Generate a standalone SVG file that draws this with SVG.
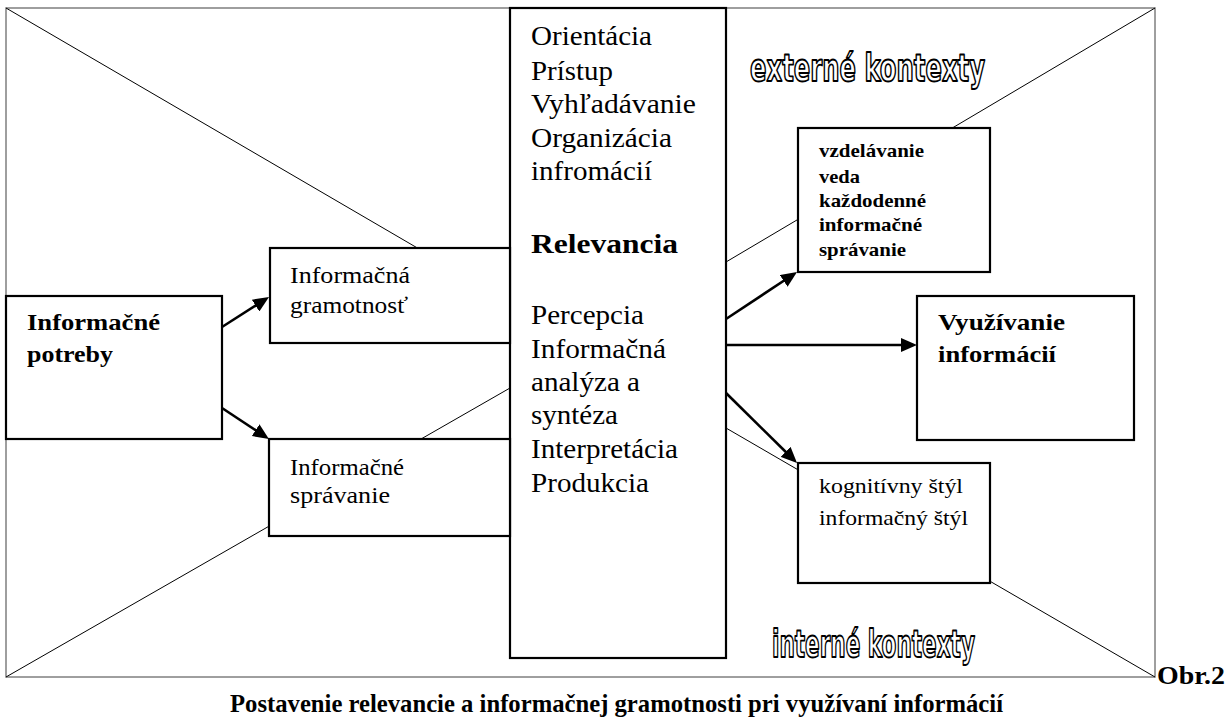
<svg xmlns="http://www.w3.org/2000/svg" width="1231" height="717" viewBox="0 0 1231 717">
<style>
.bg{fill:#fff}
.frame{fill:none;stroke:#7f7f7f;stroke-width:1.5}
.diag{stroke:#000;stroke-width:1;fill:none}
.box{fill:#fff;stroke:#000;stroke-width:2.2}
.arr{stroke:#000;stroke-width:2.6;fill:none;marker-end:url(#ah)}
.t{font-family:"Liberation Serif","Times New Roman",serif;fill:#000}
.b{font-weight:bold}
.ctx{font-family:"DejaVu Sans Condensed","DejaVu Sans","Liberation Sans",sans-serif;font-weight:bold;fill:#fff;stroke:#000;stroke-width:1.8;stroke-linejoin:round}
</style>
<defs>
<marker id="ah" markerUnits="userSpaceOnUse" viewBox="0 0 16 14" refX="6" refY="7" markerWidth="16" markerHeight="14" orient="auto">
<path d="M0,0 L16,7 L0,14 z" fill="#000"/>
</marker>
</defs>
<rect class="bg" x="0" y="0" width="1231" height="717"/>
<g id="frame">
<rect class="frame" x="6" y="8" width="1149" height="669"/>
</g>
<g id="diagonals">
<line class="diag" x1="6" y1="8" x2="510" y2="302"/>
<line class="diag" x1="6" y1="677" x2="510" y2="388"/>
<line class="diag" x1="1155" y1="8" x2="726" y2="262"/>
<line class="diag" x1="1155" y1="677" x2="726" y2="428"/>
</g>
<g id="central">
<rect class="box" x="510" y="8" width="216" height="650"/>
<text class="t" font-size="28" x="531" y="45" textLength="121" lengthAdjust="spacingAndGlyphs">Orientácia</text>
<text class="t" font-size="28" x="531" y="80" textLength="82" lengthAdjust="spacingAndGlyphs">Prístup</text>
<text class="t" font-size="28" x="531" y="113" textLength="165" lengthAdjust="spacingAndGlyphs">Vyhľadávanie</text>
<text class="t" font-size="28" x="531" y="147" textLength="141" lengthAdjust="spacingAndGlyphs">Organizácia</text>
<text class="t" font-size="28" x="531" y="180" textLength="121" lengthAdjust="spacingAndGlyphs">infromácií</text>
<text class="t b" font-size="28" x="531" y="253" textLength="147" lengthAdjust="spacingAndGlyphs">Relevancia</text>
<text class="t" font-size="28" x="531" y="324" textLength="113" lengthAdjust="spacingAndGlyphs">Percepcia</text>
<text class="t" font-size="28" x="531" y="358" textLength="135" lengthAdjust="spacingAndGlyphs">Informačná</text>
<text class="t" font-size="28" x="531" y="391" textLength="109" lengthAdjust="spacingAndGlyphs">analýza a</text>
<text class="t" font-size="28" x="531" y="424" textLength="87" lengthAdjust="spacingAndGlyphs">syntéza</text>
<text class="t" font-size="28" x="531" y="458" textLength="147" lengthAdjust="spacingAndGlyphs">Interpretácia</text>
<text class="t" font-size="28" x="531" y="492" textLength="118" lengthAdjust="spacingAndGlyphs">Produkcia</text>
</g>
<g id="potreby">
<rect class="box" x="6" y="296" width="216" height="143"/>
<text class="t b" font-size="24" x="27" y="330" textLength="133" lengthAdjust="spacingAndGlyphs">Informačné</text>
<text class="t b" font-size="24" x="27" y="362" textLength="86" lengthAdjust="spacingAndGlyphs">potreby</text>
</g>
<g id="gramotnost">
<rect class="box" x="270" y="248" width="240" height="95"/>
<text class="t" font-size="24" x="290" y="283" textLength="120" lengthAdjust="spacingAndGlyphs">Informačná</text>
<text class="t" font-size="24" x="290" y="313" textLength="118" lengthAdjust="spacingAndGlyphs">gramotnosť</text>
</g>
<g id="spravanie">
<rect class="box" x="269" y="439" width="241" height="97"/>
<text class="t" font-size="24" x="290" y="475" textLength="114" lengthAdjust="spacingAndGlyphs">Informačné</text>
<text class="t" font-size="24" x="290" y="503" textLength="100" lengthAdjust="spacingAndGlyphs">správanie</text>
</g>
<g id="externe-box">
<rect class="box" x="798" y="128" width="192" height="144"/>
<text class="t b" font-size="19" x="819" y="157" textLength="105" lengthAdjust="spacingAndGlyphs">vzdelávanie</text>
<text class="t b" font-size="19" x="819" y="183" textLength="41" lengthAdjust="spacingAndGlyphs">veda</text>
<text class="t b" font-size="19" x="819" y="207" textLength="107" lengthAdjust="spacingAndGlyphs">každodenné</text>
<text class="t b" font-size="19" x="819" y="231" textLength="103" lengthAdjust="spacingAndGlyphs">informačné</text>
<text class="t b" font-size="19" x="819" y="256" textLength="87" lengthAdjust="spacingAndGlyphs">správanie</text>
</g>
<g id="vyuzivanie">
<rect class="box" x="917" y="296" width="217" height="144"/>
<text class="t b" font-size="24" x="938" y="330" textLength="127" lengthAdjust="spacingAndGlyphs">Využívanie</text>
<text class="t b" font-size="24" x="938" y="362" textLength="118" lengthAdjust="spacingAndGlyphs">informácií</text>
</g>
<g id="styl">
<rect class="box" x="798" y="463" width="192" height="120"/>
<text class="t" font-size="22" x="819" y="493" textLength="144" lengthAdjust="spacingAndGlyphs">kognitívny štýl</text>
<text class="t" font-size="22" x="819" y="525" textLength="149" lengthAdjust="spacingAndGlyphs">informačný štýl</text>
</g>
<g id="connectors">
<line class="arr" x1="222" y1="327" x2="260.6" y2="302.4"/>
<line class="arr" x1="222" y1="408" x2="260.6" y2="433.5"/>
<line class="arr" x1="726" y1="319" x2="788.7" y2="277.5"/>
<line class="arr" x1="726" y1="345" x2="907" y2="345"/>
<line class="arr" x1="726" y1="393" x2="789.9" y2="456"/>
</g>
<g id="labels">
<text class="ctx" font-size="37" x="750" y="81" textLength="235" lengthAdjust="spacingAndGlyphs">externé kontexty</text>
<text class="ctx" font-size="37" x="772" y="657" textLength="203" lengthAdjust="spacingAndGlyphs">interné kontexty</text>
<text class="t b" font-size="25" x="1157" y="684" textLength="68" lengthAdjust="spacingAndGlyphs">Obr.2</text>
<text class="t b" font-size="26" x="230" y="712" textLength="773" lengthAdjust="spacingAndGlyphs">Postavenie relevancie a informačnej gramotnosti pri využívaní informácií</text>
</g>
</svg>
